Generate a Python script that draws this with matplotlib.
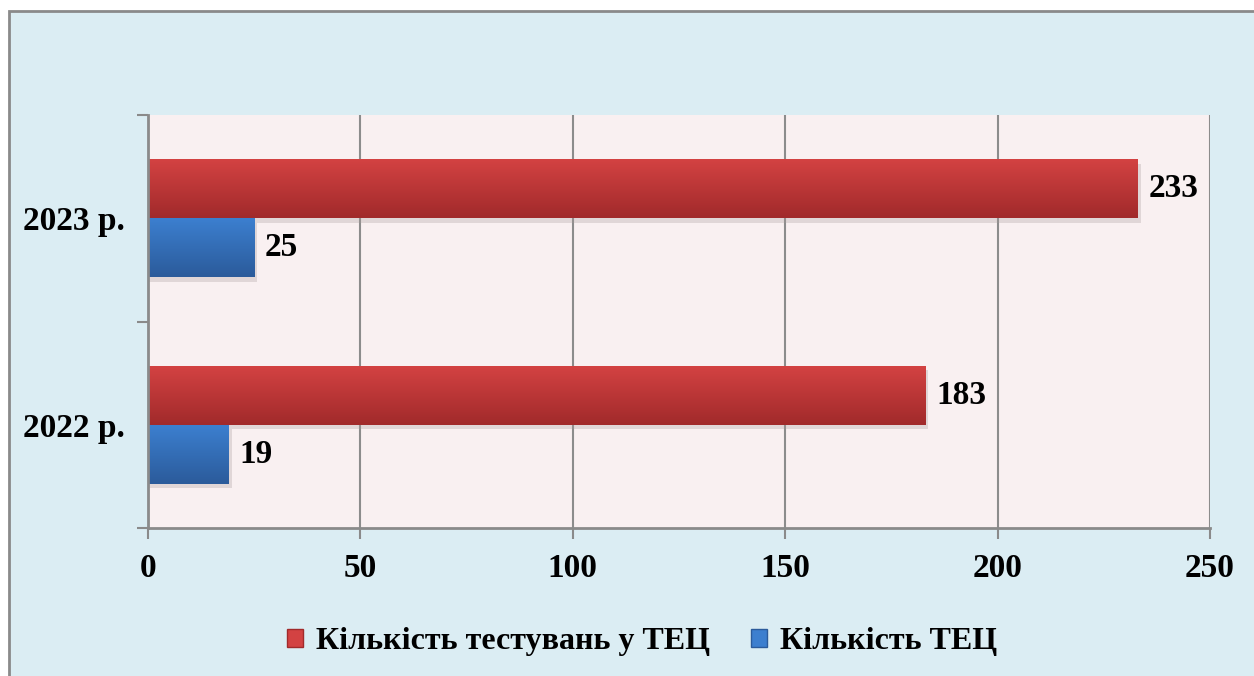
#%% Librerias
import numpy as np
import matplotlib.pyplot as plt
from matplotlib.colors import LinearSegmentedColormap
from matplotlib.patches import Rectangle, Patch

#%% Datos
anios = ['2022 р.', '2023 р.']
testuvannya = [183, 233]   # Кількість тестувань у ТЕЦ
kilkist_tec = [19, 25]     # Кількість ТЕЦ
serie_labels = ['Кількість тестувань у ТЕЦ', 'Кількість ТЕЦ']
xticks = [0, 50, 100, 150, 200, 250]

plt.rcParams['font.family'] = ['Liberation Serif', 'DejaVu Serif']
plt.rcParams['font.weight'] = 'bold'
fs = 24

rojo_top, rojo_bot = '#d34242', '#a12a2b'
azul_top, azul_bot = '#3c7fcf', '#2b5b9b'
cmap_rojo = LinearSegmentedColormap.from_list('r', [rojo_bot, rojo_top])
cmap_azul = LinearSegmentedColormap.from_list('b', [azul_bot, azul_top])

#%% Figura
fig = plt.figure(figsize=(12.54, 6.76), dpi=100, facecolor='white')
# marco celeste
fig.patches.append(Rectangle((9/1254, -0.05), 1.0, 1 - 11/676 + 0.05,
                             transform=fig.transFigure, facecolor='#dbedf3',
                             edgecolor='#8a8a8a', lw=2, zorder=-10))

ax = fig.add_axes([148/1254, 1 - 528/676, (1210 - 148)/1254, (528 - 115)/676])
ax.set_zorder(1)
ax.set_facecolor('#f9f0f1')

y = np.arange(len(anios))
h = 0.285
b_rojo = ax.barh(y + h/2, testuvannya, height=h, color='none')
b_azul = ax.barh(y - h/2, kilkist_tec, height=h, color='none')

grad = np.linspace(0, 1, 64).reshape(-1, 1)
for barras, cm in ((b_rojo, cmap_rojo), (b_azul, cmap_azul)):
    for r in barras:
        x0, y0, w, hh = r.get_x(), r.get_y(), r.get_width(), r.get_height()
        # sombra
        ax.add_patch(Rectangle((x0, y0 - 0.022), w + 0.7, hh, facecolor='#a89c9c',
                               alpha=0.3, lw=0, zorder=2))
        ax.imshow(grad, extent=(x0, x0 + w, y0, y0 + hh), cmap=cm, aspect='auto',
                  origin='lower', zorder=3, interpolation='bilinear')

for r, v in zip(b_rojo, testuvannya):
    ax.text(v + 2.5, r.get_y() + r.get_height()/2, f'{v}', va='center', ha='left',
            fontsize=fs, fontweight='bold')
for r, v in zip(b_azul, kilkist_tec):
    ax.text(v + 2.5, r.get_y() + r.get_height()/2, f'{v}', va='center', ha='left',
            fontsize=fs, fontweight='bold')

ax.set_xlim(0, 250)
ax.set_ylim(-0.5, 1.5)
ax.set_xticks(xticks)
ax.set_xticklabels([str(t) for t in xticks], fontsize=fs, fontweight='bold')
ax.set_yticks(y)
ax.set_yticklabels(anios, fontsize=fs, fontweight='bold')
ax.set_yticks([-0.5, 0.5, 1.5], minor=True)
ax.tick_params(axis='y', which='major', length=0, pad=17)
ax.tick_params(axis='y', which='minor', length=8, width=1.5, color='#8a8a8a')
ax.tick_params(axis='x', length=8, width=1.5, color='#8a8a8a', pad=10)
ax.xaxis.grid(True, color='#8c8c8c', lw=1.5, zorder=1)
ax.set_axisbelow(True)
for s in ('top', 'right'):
    ax.spines[s].set_visible(False)
for s in ('left', 'bottom'):
    ax.spines[s].set_color('#8a8a8a')
    ax.spines[s].set_linewidth(2)
    ax.spines[s].set_zorder(4)

handles = [Patch(facecolor=rojo_top, edgecolor=rojo_bot),
           Patch(facecolor=azul_top, edgecolor=azul_bot)]
fig.legend(handles, serie_labels, loc='center', bbox_to_anchor=(0.512, 1 - 642/676),
           ncol=2, frameon=False, handlelength=0.5, handleheight=0.5,
           handletextpad=0.4, columnspacing=1.3, prop={'weight': 'bold', 'size': 23})

fig.savefig('out.png', dpi=100, facecolor=fig.get_facecolor())
